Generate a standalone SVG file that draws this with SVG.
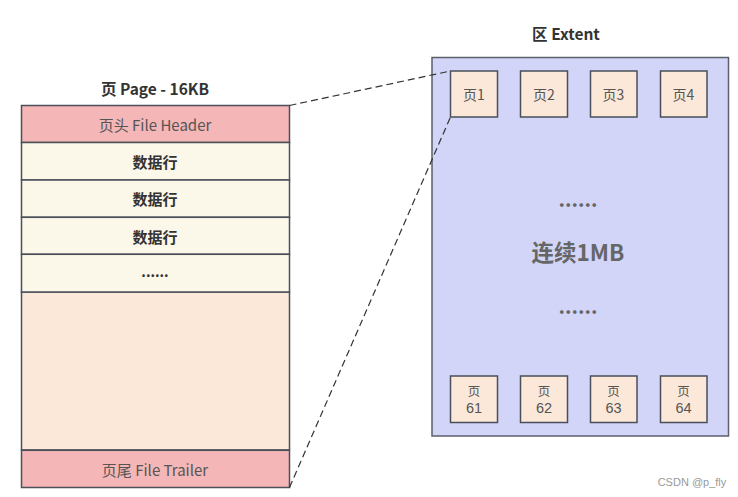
<svg xmlns="http://www.w3.org/2000/svg" width="738" height="497" viewBox="0 0 738 497">
<style>
text{font-family:"Noto Sans CJK SC","Noto Sans",sans-serif;text-anchor:middle;dominant-baseline:central}
.box{stroke:#4a4f5a;stroke-width:1.5}
.hdr{fill:#f4b6b6}
.row{fill:#fbf7e9}
.body{fill:#fbe8d9}
.pg{fill:#fbe8d9;stroke:#4a4f5a;stroke-width:1.5}
.lt{font-size:15px;fill:#555}
.bt{font-size:15px;font-weight:bold;fill:#333}
.pt{font-size:14px;fill:#555}
.pc{font-size:12.5px;fill:#555}
.pd{font-size:14.5px;fill:#555;font-family:"Liberation Sans",Arial,sans-serif}
.conn{stroke:#333;stroke-width:1.2;stroke-dasharray:7 4;fill:none}
</style>
<rect width="738" height="497" fill="#ffffff"/>
<text x="155" y="88" class="bt" style="font-size:15.5px">页 Page - 16KB</text>
<text x="566" y="33" class="bt" style="font-size:15.5px">区 Extent</text>
<g id="page">
<rect id="body" class="box body" x="21.5" y="292" width="268" height="158"/>
<g id="header"><rect class="box hdr" x="21.5" y="105.5" width="268" height="37"/><text x="155" y="124.5" class="lt">页头 File Header</text></g>
<g id="row1"><rect class="box row" x="21.5" y="142.5" width="268" height="37.5"/><text x="155" y="161" class="bt">数据行</text></g>
<g id="row2"><rect class="box row" x="21.5" y="180" width="268" height="37.3"/><text x="155" y="198.5" class="bt">数据行</text></g>
<g id="row3"><rect class="box row" x="21.5" y="217.3" width="268" height="37"/><text x="155" y="236" class="bt">数据行</text></g>
<g id="row4"><rect class="box row" x="21.5" y="254.3" width="268" height="37.7"/><text x="155" y="271" style="font-size:14px;font-weight:bold;fill:#333">......</text></g>
<g id="trailer"><rect class="box hdr" x="21.5" y="450.3" width="268" height="37.2"/><text x="155" y="469" class="lt">页尾 File Trailer</text></g>
</g>
<g id="extent">
<rect x="432" y="57.5" width="296.5" height="378.5" fill="#d2d5f8" stroke="#5a5f6a" stroke-width="1.5"/>
<text x="578" y="198" style="font-size:20px;font-weight:bold;fill:#666">......</text>
<text x="578" y="251" style="font-size:22.5px;font-weight:bold;fill:#666">连续1MB</text>
<text x="578" y="305" style="font-size:20px;font-weight:bold;fill:#666">......</text>
</g>
<g id="p1"><rect class="pg" x="450.5" y="71" width="47" height="46"/><text x="474" y="94" class="pt">页1</text></g>
<g id="p2"><rect class="pg" x="520.5" y="71" width="47" height="46"/><text x="544" y="94" class="pt">页2</text></g>
<g id="p3"><rect class="pg" x="590.5" y="71" width="46.5" height="46"/><text x="613.5" y="94" class="pt">页3</text></g>
<g id="p4"><rect class="pg" x="660.5" y="71" width="46.5" height="46"/><text x="683.5" y="94" class="pt">页4</text></g>
<g id="p61"><rect class="pg" x="450.5" y="376" width="47" height="46.5"/><text x="474" y="390" class="pc">页</text><text x="474" y="407.5" class="pd">61</text></g>
<g id="p62"><rect class="pg" x="520.5" y="376" width="47" height="46.5"/><text x="544" y="390" class="pc">页</text><text x="544" y="407.5" class="pd">62</text></g>
<g id="p63"><rect class="pg" x="590.5" y="376" width="46.5" height="46.5"/><text x="613.5" y="390" class="pc">页</text><text x="613.5" y="407.5" class="pd">63</text></g>
<g id="p64"><rect class="pg" x="660.5" y="376" width="46.5" height="46.5"/><text x="683.5" y="390" class="pc">页</text><text x="683.5" y="407.5" class="pd">64</text></g>
<g id="connectors">
<path class="conn" d="M289.5 105.5 L450.5 71"/>
<path class="conn" d="M289.5 487.5 L450.5 117"/>
</g>
<text x="692" y="482" style="font-size:11px;fill:#999;font-family:'Liberation Sans',sans-serif">CSDN @p_fly</text>
</svg>
